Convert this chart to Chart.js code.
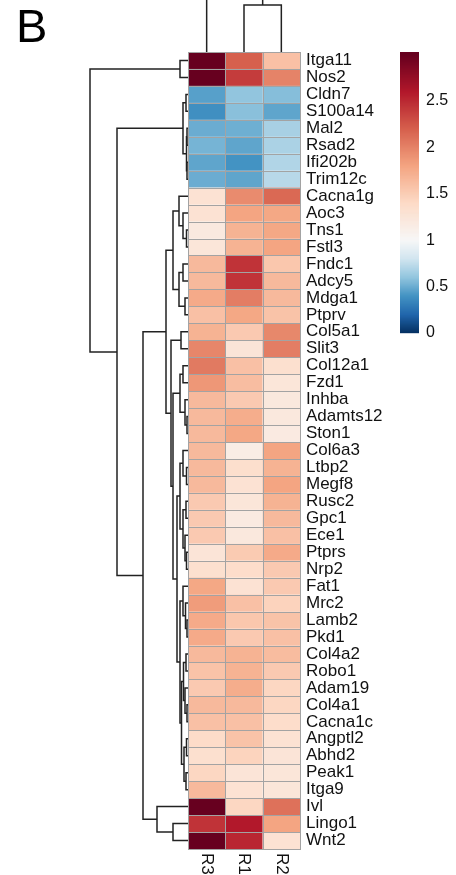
<!DOCTYPE html>
<html><head><meta charset="utf-8">
<script src="https://cdn.jsdelivr.net/npm/chart.js@4.4.1/dist/chart.umd.min.js"></script>
<style>html,body{margin:0;padding:0;background:#fff;}#wrap{position:relative;width:456px;height:875px;}</style>
</head><body><div id="wrap"><canvas id="c"></canvas></div>
<script>
// ---------------- data ----------------
const rowNames = ['Itga11','Nos2','Cldn7','S100a14','Mal2','Rsad2','Ifi202b','Trim12c','Cacna1g','Aoc3','Tns1','Fstl3','Fndc1','Adcy5','Mdga1','Ptprv','Col5a1','Slit3','Col12a1','Fzd1','Inhba','Adamts12','Ston1','Col6a3','Ltbp2','Megf8','Rusc2','Gpc1','Ece1','Ptprs','Nrp2','Fat1','Mrc2','Lamb2','Pkd1','Col4a2','Robo1','Adam19','Col4a1','Cacna1c','Angptl2','Abhd2','Peak1','Itga9','Ivl','Lingo1','Wnt2'];
const colNames = ['R3','R1','R2'];
const valsR3 = [3.0,3.0,0.45,0.38,0.5,0.53,0.47,0.5, 1.3,1.3,1.2,1.25, 1.65,1.65,1.76,1.6, 1.7,1.98, 2.05,1.88,1.65,1.65,1.65, 1.65,1.65,1.65,1.53,1.53, 1.53,1.27,1.33, 1.78,1.85,1.76,1.76, 1.65,1.58,1.53,1.65,1.6, 1.38,1.33,1.43,1.65, 3.0,2.45,3.0];
const valsR1 = [2.2,2.4,0.6,0.58,0.51,0.47,0.40,0.47, 1.95,1.8,1.7,1.7, 2.45,2.45,2.03,1.78, 1.53,1.27, 1.6,1.62,1.53,1.74,1.78, 1.15,1.35,1.3,1.25,1.18, 1.22,1.52,1.37, 1.3,1.6,1.55,1.53, 1.7,1.7,1.74,1.65,1.6, 1.58,1.45,1.27,1.3, 1.43,2.6,2.52];
const valsR2 = [1.6,2.0,0.57,0.47,0.67,0.68,0.7,0.72, 2.15,1.78,1.78,1.8, 1.55,1.65,1.65,1.58, 1.97,2.03, 1.33,1.25,1.22,1.22,1.18, 1.8,1.7,1.8,1.7,1.65, 1.6,1.76,1.53, 1.53,1.46,1.58,1.6, 1.63,1.53,1.43,1.43,1.37, 1.3,1.27,1.25,1.25, 2.1,1.8,1.3];
// row dendrogram (hclust style: negative = leaf, positive = earlier merge, 1-based)
const rowMergeA = [-1,-3,-5,-7,3,2,-11,-10,-9,-13, -15,10,9,-17,-19,-22,-21,15,-25,-24, -27,-30,-29,21,20,-34,-33,-32,-36,-39, -38,29,-41,-43,33,32,28,25,18,14, 13,-46,-45,41,6,1];
const rowMergeB = [-2,-4,-6,-8,4,5,-12,7,8,-14, -16,11,12,-18,-20,-23,16,17,-26,19, -28,-31,22,23,24,-35,26,27,-37,-40, 30,31,-42,-44,34,35,36,37,38,39, 40,-47,42,43,44,45];
const rowMergeH = [0.8,0.2,0.1,0.1,0.15,0.5,0.15,0.5,0.9,0.5, 0.3,0.9,1.5,0.7,0.5,0.1,0.3,0.8,0.15,0.5, 0.2,0.15,0.3,0.5,0.8,0.1,0.25,0.5,0.2,0.1, 0.3,0.45,0.15,0.2,0.4,0.65,0.8,1.1,1.5,1.7, 2.2,1.5,3.1,4.5,7.1,9.8];
// column dendrogram
const colMergeA = [-2,-1];
const colMergeB = [-3,1];
const colMergeH = [4.7,7.5];
// colour legend
const legendTicks = [0,0.5,1,1.5,2,2.5];
const legendMax = 3.03;
const colorStops = [0,0.2,0.4,0.6,0.8,1,1.4,1.8,2.2,2.6,3.0];
const colorHex = ['#053061','#2166AC','#4393C3','#92C5DE','#D1E5F0','#F7F7F7','#FDDBC7','#F4A582','#D6604D','#B2182B','#67001F'];

// ---------------- layout / style ----------------
const W = 456, H = 875;
const PAD_L = 188, PAD_T = 52, PAD_B = 26, AXIS_R = 156;
const DENDRO_PX = 10; // px per height unit
const areaW = W - PAD_L - AXIS_R, areaH = H - PAD_T - PAD_B;
const FONT = '"Liberation Sans", Arial, sans-serif';
const LINE = '#222';

function hex2rgb(h){return [parseInt(h.slice(1,3),16),parseInt(h.slice(3,5),16),parseInt(h.slice(5,7),16)];}
const stopRGB = colorHex.map(hex2rgb);
function colorFor(v){
  if (v <= colorStops[0]) return 'rgb('+stopRGB[0].join(',')+')';
  for (let i=1;i<colorStops.length;i++){
    if (v <= colorStops[i]){
      const t=(v-colorStops[i-1])/(colorStops[i]-colorStops[i-1]);
      const a=stopRGB[i-1], b=stopRGB[i];
      return 'rgb('+a.map((c,k)=>Math.round(c+(b[k]-c)*t)).join(',')+')';
    }
  }
  return 'rgb('+stopRGB[stopRGB.length-1].join(',')+')';
}
const columns = [valsR3, valsR1, valsR2];

function treeSegments(A,B,Hs,leafPos){
  const pos=[], hgt=[], segs=[];
  const ref = r => r<0 ? {p:leafPos(-r-1), h:0} : {p:pos[r-1], h:hgt[r-1]};
  for (let k=0;k<A.length;k++){
    const a=ref(A[k]), b=ref(B[k]), h=Hs[k];
    pos[k]=(a.p+b.p)/2; hgt[k]=h;
    segs.push({a,b,h});
  }
  return segs;
}
const lineStyle = {showLine:true, borderColor:LINE, borderWidth:1.5, pointRadius:0, pointHoverRadius:0, fill:false, clip:false, tension:0};
const datasets = [];
treeSegments(rowMergeA,rowMergeB,rowMergeH,i=>i+0.5).forEach(s=>{
  datasets.push(Object.assign({xAxisID:'xd', yAxisID:'y', data:[
    {x:s.a.h,y:s.a.p},{x:s.h,y:s.a.p},{x:s.h,y:s.b.p},{x:s.b.h,y:s.b.p}]}, lineStyle));
});
treeSegments(colMergeA,colMergeB,colMergeH,i=>i+0.5).forEach(s=>{
  datasets.push(Object.assign({xAxisID:'x', yAxisID:'yd', data:[
    {x:s.a.p,y:s.a.h},{x:s.a.p,y:s.h},{x:s.b.p,y:s.h},{x:s.b.p,y:s.b.h}]}, lineStyle));
});

const heatPlugin = {
  id:'heat',
  beforeDatasetsDraw(chart){
    const ctx=chart.ctx, xs=chart.scales.x, ys=chart.scales.y;
    ctx.save();
    columns.forEach((col,j)=>{
      const x0=xs.getPixelForValue(j), x1=xs.getPixelForValue(j+1);
      col.forEach((v,i)=>{
        const y0=ys.getPixelForValue(i), y1=ys.getPixelForValue(i+1);
        ctx.fillStyle=colorFor(v);
        ctx.fillRect(x0,y0,x1-x0,y1-y0);
      });
    });
    ctx.strokeStyle='#a3a3a3'; ctx.lineWidth=1;
    columns.forEach((col,j)=>{
      const x0=xs.getPixelForValue(j), x1=xs.getPixelForValue(j+1);
      col.forEach((v,i)=>{
        const y0=ys.getPixelForValue(i), y1=ys.getPixelForValue(i+1);
        ctx.strokeRect(Math.round(x0)+0.5,Math.round(y0)+0.5,Math.round(x1)-Math.round(x0),Math.round(y1)-Math.round(y0));
      });
    });
    ctx.restore();
  },
  afterDraw(chart){
    const ctx=chart.ctx, xs=chart.scales.x, area=chart.chartArea;
    ctx.save();
    ctx.fillStyle='#111';
    ctx.font='17px '+FONT;
    ctx.textAlign='left'; ctx.textBaseline='middle';
    colNames.forEach((n,j)=>{
      ctx.save();
      ctx.translate(xs.getPixelForValue(j+0.5), area.bottom+4);
      ctx.rotate(Math.PI/2);
      ctx.fillText(n,0,0);
      ctx.restore();
    });
    // panel letter
    ctx.fillStyle='#000';
    ctx.font='47px '+FONT;
    ctx.textBaseline='alphabetic';
    ctx.fillText('B',16,42);
    // colour bar legend
    const LX=400, LW=19, L0=333, LPU=92.8;
    const steps=Math.round(legendMax*LPU);
    for (let s=0;s<steps;s++){
      const v=(s+0.5)/LPU;
      ctx.fillStyle=colorFor(v);
      ctx.fillRect(LX, L0-s-1, LW, 1.2);
    }
    ctx.fillStyle='#111';
    ctx.font='16px '+FONT;
    ctx.textBaseline='middle';
    legendTicks.forEach(t=>{
      ctx.fillText(String(t), LX+26, L0-t*LPU);
    });
    ctx.restore();
  }
};

new Chart(document.getElementById('c'), {
  type:'scatter',
  data:{datasets},
  options:{
    responsive:true, maintainAspectRatio:false, animation:false,
    layout:{padding:{left:PAD_L, top:PAD_T, bottom:PAD_B, right:0}},
    plugins:{legend:{display:false}, tooltip:{enabled:false}},
    events:[],
    scales:{
      x:{type:'linear', min:0, max:colNames.length, display:false},
      y:{type:'linear', position:'right', min:0, max:rowNames.length, reverse:true,
         grid:{display:false, drawTicks:false}, border:{display:false},
         afterBuildTicks(scale){ scale.ticks = rowNames.map((_,i)=>({value:i+0.5})); },
         afterFit(scale){ scale.width = AXIS_R; },
         ticks:{autoSkip:false, padding:6, color:'#111', font:{family:FONT, size:17},
                callback:(v,i)=>rowNames[i]}},
      xd:{type:'linear', axis:'x', position:'bottom', display:false, reverse:true,
          min:-areaW/DENDRO_PX, max:0},
      yd:{type:'linear', axis:'y', position:'left', display:false,
          min:-areaH/DENDRO_PX, max:0}
    }
  },
  plugins:[heatPlugin]
});
</script></body></html>
